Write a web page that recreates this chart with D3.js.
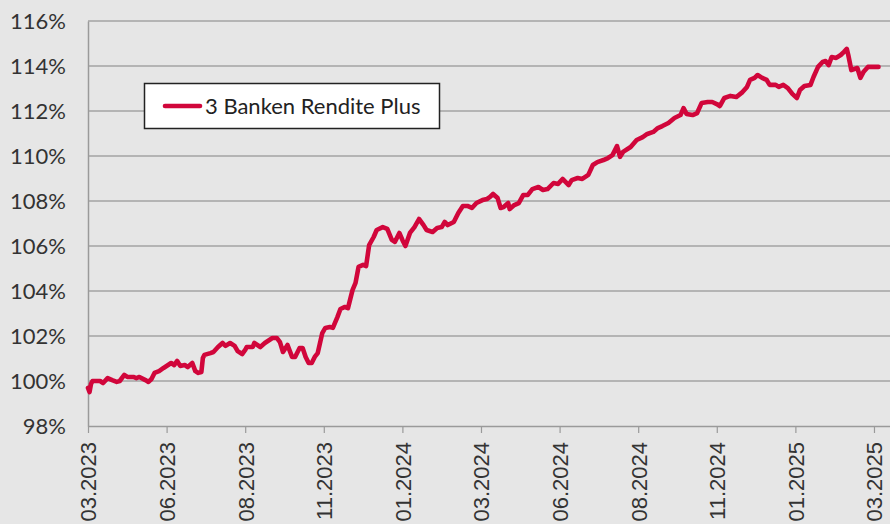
<!DOCTYPE html>
<html><head><meta charset="utf-8">
<script src="https://cdn.jsdelivr.net/npm/d3@7"></script>
<style>
html,body{margin:0;padding:0;background:#e6e6e6;overflow:hidden;}
svg{display:block;}
</style></head>
<body>
<svg id="chart" width="890" height="524"></svg>
<script>
const seriesName = "3 Banken Rendite Plus";
const xTickLabels = ["03.2023","06.2023","08.2023","11.2023","01.2024","03.2024","06.2024","08.2024","11.2024","01.2025","03.2025"];
const yTicks = [98,100,102,104,106,108,110,112,114,116];
const dayIdx = [0,1,2,3,8,10,13,16,19,21,24,26,30,32,34,38,40,42,44,47,50,53,55,57,59,61,64,66,69,71,73,75,76,77,81,83,86,89,91,94,97,99,102,104,105,109,110,114,117,122,125,127,129,132,135,137,140,142,144,146,148,150,152,155,157,160,162,165,167,170,172,175,177,179,182,184,186,189,191,195,198,201,203,206,208,210,213,216,219,222,224,228,231,234,236,238,242,245,248,251,254,257,261,264,266,268,271,273,275,278,279,282,285,288,291,294,298,301,304,308,311,314,318,320,324,327,331,334,337,341,344,347,350,352,354,359,363,367,370,374,377,380,384,388,392,394,396,400,403,406,410,413,416,418,421,425,429,433,436,438,441,443,446,449,451,455,457,460,463,466,469,471,474,478,480,483,486,488,490,492,495,498,500,502,503,505,509,511,513,516,519,523];
const values = [99.69,99.51,99.87,100.0,100.0,99.91,100.13,100.04,99.96,100.0,100.27,100.18,100.18,100.13,100.18,100.04,99.96,100.09,100.36,100.44,100.58,100.71,100.80,100.71,100.89,100.67,100.71,100.62,100.80,100.44,100.36,100.40,101.02,101.16,101.24,101.29,101.51,101.69,101.56,101.69,101.56,101.33,101.20,101.38,101.51,101.51,101.69,101.51,101.69,101.91,101.91,101.73,101.29,101.60,101.07,101.07,101.47,101.47,101.07,100.80,100.80,101.07,101.24,102.13,102.36,102.40,102.36,102.84,103.20,103.29,103.24,104.04,104.36,105.07,105.16,105.11,106.04,106.40,106.71,106.84,106.76,106.27,106.18,106.58,106.27,106.00,106.58,106.84,107.20,106.93,106.71,106.62,106.80,106.84,107.07,106.93,107.07,107.47,107.78,107.78,107.69,107.91,108.04,108.09,108.18,108.31,108.13,107.69,107.73,107.91,107.64,107.82,107.91,108.27,108.27,108.53,108.62,108.49,108.53,108.80,108.76,108.98,108.71,108.93,109.02,108.98,109.16,109.60,109.73,109.82,109.91,110.04,110.44,109.96,110.18,110.40,110.71,110.84,110.98,111.07,111.24,111.33,111.47,111.69,111.82,112.13,111.87,111.82,111.91,112.36,112.40,112.40,112.31,112.22,112.58,112.67,112.62,112.84,113.07,113.38,113.47,113.60,113.47,113.38,113.16,113.16,113.07,113.16,113.02,112.76,112.58,112.93,113.11,113.16,113.51,113.96,114.18,114.22,114.04,114.40,114.36,114.49,114.62,114.76,114.49,113.82,113.91,113.47,113.73,113.96,113.96,113.96];
const tickEvery = 52;
const totalDays = 530.6;

const svg = d3.select("#chart");
const W = 890, H = 524;
const m = {left:88, right:0, top:21, bottom:98};
svg.append("rect").attr("width",W).attr("height",H).attr("fill","#e6e6e6");

const x = d3.scaleLinear().domain([0,totalDays]).range([m.left, W-m.right]);
const y = d3.scaleLinear().domain([98,116]).range([H-m.bottom, m.top]);

// gridlines
svg.append("g").selectAll("line").data(yTicks.filter(d=>d>98)).join("line")
  .attr("x1",m.left).attr("x2",W).attr("y1",d=>y(d)).attr("y2",d=>y(d))
  .attr("stroke","#a3a3a3").attr("stroke-width",1.5);

// y axis
const yAxis = svg.append("g").attr("transform",`translate(${m.left},0)`)
  .call(d3.axisLeft(y).tickValues(yTicks).tickSize(0).tickPadding(22).tickFormat(d=>d+"%"));
yAxis.select(".domain").attr("stroke","#9a9a9a").attr("stroke-width",1.5);
yAxis.selectAll("text").attr("font-family","Lato, sans-serif").attr("font-size",22).attr("fill","#333");

// x axis
const xAxis = svg.append("g").attr("transform",`translate(0,${y(98)})`)
  .call(d3.axisBottom(x).tickValues(xTickLabels.map((d,i)=>i*tickEvery)).tickSize(7).tickSizeOuter(0)
    .tickFormat((d,i)=>xTickLabels[i]));
xAxis.select(".domain").attr("stroke","#9a9a9a").attr("stroke-width",1.5);
xAxis.selectAll(".tick line").attr("stroke","#9a9a9a").attr("stroke-width",1.2);
xAxis.selectAll("text")
  .attr("font-family","'Liberation Sans', Arial, sans-serif").attr("font-size",22).attr("fill","#333")
  .attr("text-anchor","end").attr("transform","rotate(-90)")
  .attr("x",-16).attr("y",0).attr("dy","0.36em");

// line
const pts = dayIdx.map((d,i)=>[d,values[i]]);
svg.append("path").datum(pts)
  .attr("d", d3.line().x(d=>x(d[0])).y(d=>y(d[1])).curve(d3.curveLinear))
  .attr("fill","none").attr("stroke","#d1063b").attr("stroke-width",4.6)
  .attr("stroke-linejoin","round").attr("stroke-linecap","round");

// legend
const lg = svg.append("g");
lg.append("rect").attr("x",144.5).attr("y",83.5).attr("width",295).attr("height",45)
  .attr("fill","#ffffff").attr("stroke","#222").attr("stroke-width",1.5);
lg.append("line").attr("x1",165).attr("x2",200).attr("y1",106).attr("y2",106)
  .attr("stroke","#d1063b").attr("stroke-width",4.6).attr("stroke-linecap","round");
lg.append("text").attr("x",205).attr("y",106).attr("dy","0.35em")
  .attr("font-family","Lato, sans-serif").attr("font-size",22).attr("fill","#222").text(seriesName);
</script>
</body></html>
